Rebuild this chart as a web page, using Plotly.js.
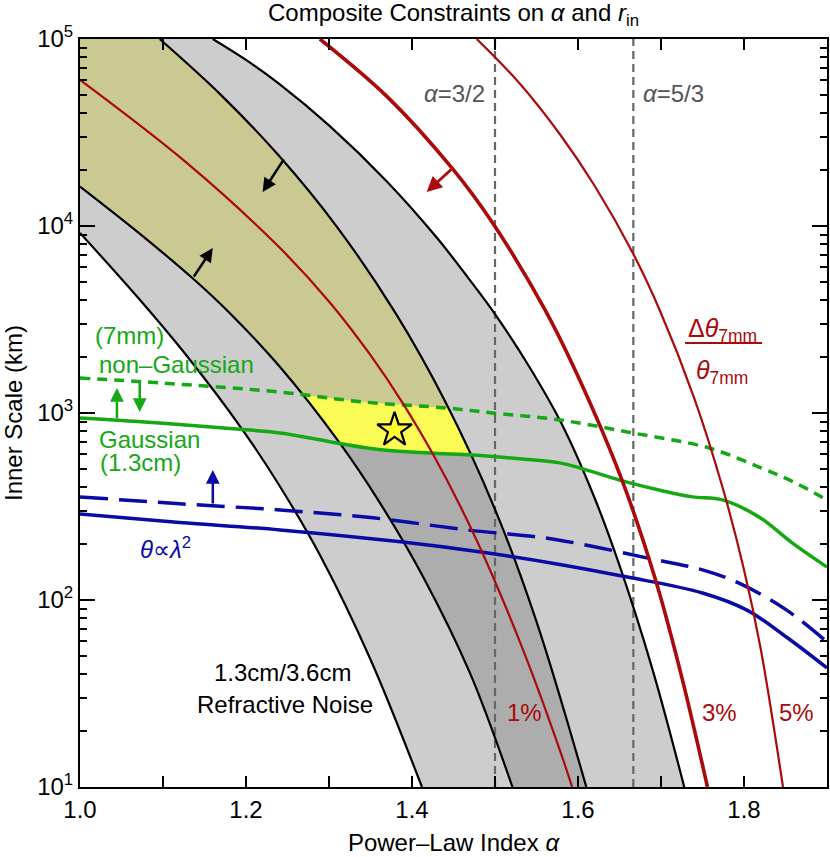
<!DOCTYPE html>
<html><head><meta charset="utf-8">
<script src="https://cdn.plot.ly/plotly-3.0.1.min.js"></script>
<style>html,body{margin:0;padding:0;background:#fff}#plot{width:830px;height:857px}</style>
</head><body><div id="plot"></div>
<script>
// ---- refractive-noise band edges (alpha, inner scale km)
const b1Alpha = [1.0, 1.07, 1.13, 1.196, 1.24, 1.29, 1.35, 1.412];
const b1Rin   = [9183, 4130, 1986, 811, 411, 171, 48.1, 10];
const b2Alpha = [1.0, 1.07, 1.136, 1.18, 1.241, 1.313, 1.36, 1.413, 1.47, 1.521];
const b2Rin   = [16255, 9247, 5236, 3436, 1762, 690, 338, 134, 40.5, 10];
const b3Alpha = [1.096, 1.17, 1.24, 1.31, 1.38, 1.44, 1.50, 1.55, 1.61];
const b3Rin   = [100000, 50119, 23659, 9840, 3428, 1151, 305.5, 76.7, 10];
const b4Alpha = [1.16, 1.20, 1.24, 1.30, 1.37, 1.43, 1.47, 1.50, 1.54, 1.58, 1.62, 1.65, 1.69, 1.728];
const b4Rin   = [100000, 77268, 57544, 34514, 17258, 8650, 5117, 3381, 1807, 881, 351, 153, 42.2, 10];
// ---- fractional size change curves 1%, 3%, 5%
const r1Alpha = [1.0, 1.129, 1.241, 1.301, 1.35, 1.389, 1.425, 1.46, 1.497, 1.54, 1.578, 1.593];
const r1Rin   = [60395, 21677, 7621, 3899, 2037, 1127, 605, 305.5, 134.9, 46.0, 15.8, 10];
const r3Alpha = [1.289, 1.37, 1.449, 1.497, 1.56, 1.60, 1.653, 1.694, 1.725, 1.756];
const r3Rin   = [100000, 49204, 20184, 10399, 3581, 1570, 437, 125.6, 38.7, 10];
const r5Alpha = [1.478, 1.53, 1.578, 1.62, 1.666, 1.698, 1.74, 1.774, 1.80, 1.82, 1.847];
const r5Rin   = [100000, 57677, 31046, 16406, 7178, 3589, 1202, 402, 145.2, 55.2, 10];
// ---- Gaussian (1.3cm) and non-Gaussian (7mm)
const gsAlpha = [1.0, 1.1, 1.2, 1.241, 1.309, 1.36, 1.421, 1.473, 1.53, 1.578, 1.658, 1.70, 1.738, 1.774, 1.818, 1.858, 1.9];
const gsRin   = [940, 881, 813, 782, 692, 638, 611, 596, 569, 541, 428, 385, 356, 343, 278, 202, 150];
const gdAlpha = [1.0, 1.1, 1.241, 1.341, 1.441, 1.497, 1.578, 1.666, 1.758, 1.818, 1.86, 1.9];
const gdRin   = [1538, 1445, 1294, 1146, 1064, 1000, 918, 782, 650, 514, 427, 343];
// ---- theta ~ lambda^2
const bsAlpha = [1.0, 1.12, 1.241, 1.389, 1.481, 1.578, 1.658, 1.75, 1.803, 1.851, 1.9];
const bsRin   = [288, 260, 237, 204, 181, 155, 133, 109, 88.5, 63.4, 43.3];
const bdAlpha = [1.0, 1.12, 1.241, 1.353, 1.466, 1.569, 1.694, 1.75, 1.794, 1.851, 1.9];
const bdRin   = [356, 327, 303, 275, 237, 212, 164, 145, 123, 88.5, 59.6];
// ---- best fit and reference indices
const starAlpha = [1.379];
const starRin   = [811];
const refAlpha  = [1.5, 5/3];
const refLabels = ['<i>α</i>=3/2', '<i>α</i>=5/3'];
const xRange = [1.0, 1.9];
const yRange = [10, 100000];

const RED = '#aa0a0a', GREEN = '#14a814', BLUE = '#0a0aa5', FONT = 'Liberation Sans, Arial, sans-serif';

const L = v => Math.log10(v);
const pts = (xs, ys) => xs.map((x, i) => [x, L(ys[i])]);
const B1 = pts(b1Alpha, b1Rin), B2 = pts(b2Alpha, b2Rin), B3 = pts(b3Alpha, b3Rin), B4 = pts(b4Alpha, b4Rin);
const GS = pts(gsAlpha, gsRin), GD = pts(gdAlpha, gdRin);

function seg(a, b, c, d) {
  const rx = b[0]-a[0], ry = b[1]-a[1], sx = d[0]-c[0], sy = d[1]-c[1];
  const den = rx*sy - ry*sx;
  if (Math.abs(den) < 1e-14) return null;
  const t = ((c[0]-a[0])*sy - (c[1]-a[1])*sx) / den;
  const u = ((c[0]-a[0])*ry - (c[1]-a[1])*rx) / den;
  if (t >= 0 && t <= 1 && u >= 0 && u <= 1) return {t, u, pt: [a[0]+t*rx, a[1]+t*ry]};
  return null;
}
function intersect(P, Q) {
  for (let i = 0; i < P.length-1; i++)
    for (let j = 0; j < Q.length-1; j++) {
      const r = seg(P[i], P[i+1], Q[j], Q[j+1]);
      if (r) return {i, j, pt: r.pt};
    }
  return null;
}
// region of the B2-B3 band lying below curve G
function bandBelow(G) {
  const a = intersect(G, B2), b = intersect(G, B3);
  return [a.pt].concat(G.slice(a.i+1, b.i+1), [b.pt], B3.slice(b.j+1), B2.slice(a.j+1).reverse());
}
function fillTrace(P, color) {
  return {type: 'scatter', mode: 'lines', x: P.map(p => p[0]), y: P.map(p => Math.pow(10, p[1])),
          fill: 'toself', fillcolor: color, line: {width: 0}, hoverinfo: 'skip'};
}
const traces = [];
traces.push(fillTrace(B1.concat(B2.slice().reverse()), '#cdcdcd'));
traces.push(fillTrace(B3.concat(B4.slice().reverse()), '#cdcdcd'));
traces.push(fillTrace([[xRange[0], L(yRange[1])]].concat(B3, B2.slice().reverse()), '#c9c991'));
traces.push(fillTrace(bandBelow(GD), '#fbfb55'));
traces.push(fillTrace(bandBelow(GS), '#adadad'));

refAlpha.forEach(a => traces.push({type: 'scatter', mode: 'lines', x: [a, a], y: yRange,
  line: {color: '#666', width: 2.2, dash: '8px,5px'}}));

function line(xs, ys, color, width, dash) {
  return {type: 'scatter', mode: 'lines', x: xs, y: ys, line: {color, width, dash: dash || 'solid', shape: 'spline', smoothing: 1}};
}
[[b1Alpha, b1Rin], [b2Alpha, b2Rin], [b3Alpha, b3Rin], [b4Alpha, b4Rin]].forEach(c => traces.push(line(c[0], c[1], '#000', 2.2)));
traces.push(line(gdAlpha, gdRin, GREEN, 3.5, '10px,7px'));
traces.push(line(gsAlpha, gsRin, GREEN, 3.5));
traces.push(line(bdAlpha, bdRin, BLUE, 3.5, '28px,11px'));
traces.push(line(bsAlpha, bsRin, BLUE, 3.5));
traces.push(line(r1Alpha, r1Rin, RED, 2.2));
traces.push(line(r3Alpha, r3Rin, RED, 3.6));
traces.push(line(r5Alpha, r5Rin, RED, 2.2));
traces.push({type: 'scatter', mode: 'markers', x: starAlpha, y: starRin,
  marker: {symbol: 'star', size: 26, color: '#ffff33', line: {color: '#000', width: 2.2}}});

// arrows: [tailAlpha, tailLog, headAlpha, headLog, color, width]
const arrows = [
  [1.2467, 4.364, 1.220, 4.182, '#000', 2.5],
  [1.136, 3.722, 1.160, 3.882, '#000', 2.5],
  [1.449, 4.310, 1.4176, 4.182, RED, 2.8],
  [1.0445, 2.963, 1.0445, 3.134, GREEN, 2.5],
  [1.072, 3.176, 1.072, 3.005, GREEN, 2.5],
  [1.160, 2.508, 1.160, 2.695, BLUE, 2.5]
];
const ann = arrows.map(a => ({x: a[2], y: a[3], ax: a[0], ay: a[1], xref: 'x', yref: 'y', axref: 'x', ayref: 'y',
  showarrow: true, arrowhead: 2, arrowsize: 1.1, arrowwidth: a[5], arrowcolor: a[4], text: '', standoff: 0, startstandoff: 0}));
function txt(x, y, text, color, xanchor, size) {
  return {x, y, text, xref: 'x', yref: 'y', showarrow: false, xanchor: xanchor || 'center', yanchor: 'middle',
          font: {family: FONT, size: size || 24, color}, align: 'center'};
}
ann.push(txt(1.4898, 4.711, refLabels[0], '#555', 'right'));
ann.push(txt(1.676, 4.711, refLabels[1], '#555', 'left'));
ann.push(txt(1.0156, 3.417, '(7mm)', GREEN, 'left'));
ann.push(txt(1.0205, 3.257, 'non–Gaussian', GREEN, 'left'));
ann.push(txt(1.0205, 2.856, 'Gaussian', GREEN, 'left'));
ann.push(txt(1.0217, 2.733, '(1.3cm)', GREEN, 'left'));
ann.push(txt(1.0698, 2.278, '<i>θ</i>∝<i>λ</i><sup>2</sup>', BLUE, 'left'));
ann.push(txt(1.2437, 1.615, '1.3cm/3.6cm', '#000'));
ann.push(txt(1.2467, 1.439, 'Refractive Noise', '#000'));
ann.push(txt(1.5355, 1.396, '1%', RED));
ann.push(txt(1.770, 1.396, '3%', RED));
ann.push(txt(1.8628, 1.396, '5%', RED));
ann.push(txt(1.7738, 3.444, 'Δ<i>θ</i><sub>7mm</sub>', RED, 'center', 25));
ann.push(txt(1.7738, 3.219, '<i>θ</i><sub>7mm</sub>', RED, 'center', 25));

const minorVals = [];
for (let e = 1; e < 5; e++) for (let k = 2; k <= 9; k++) minorVals.push(k * Math.pow(10, e));

const layout = {
  width: 830, height: 857,
  margin: {l: 80, r: 3, t: 39, b: 70},
  paper_bgcolor: '#fff', plot_bgcolor: '#fff',
  showlegend: false, hovermode: false,
  font: {family: FONT, size: 24, color: '#000'},
  title: {text: 'Composite Constraints on <i>α</i> and <i>r</i><sub>in</sub>', font: {family: FONT, size: 24},
          x: 0.5, xref: 'paper', y: 0.985, yref: 'container', yanchor: 'middle'},
  xaxis: {range: xRange, tickvals: [1.0, 1.1, 1.2, 1.3, 1.4, 1.5, 1.6, 1.7, 1.8, 1.9],
          ticktext: ['1.0', '', '1.2', '', '1.4', '', '1.6', '', '1.8', ''],
          ticks: 'inside', ticklen: 11, tickwidth: 2, tickcolor: '#000',
          showline: true, linewidth: 2, linecolor: '#000', mirror: 'ticks',
          showgrid: false, zeroline: false, tickfont: {size: 24},
          title: {text: 'Power–Law Index <i>α</i>', font: {size: 24}, standoff: 12}},
  yaxis: {type: 'log', range: [L(yRange[0]), L(yRange[1])],
          tickvals: [10, 100, 1000, 10000, 100000],
          ticktext: ['10<sup>1</sup>', '10<sup>2</sup>', '10<sup>3</sup>', '10<sup>4</sup>', '10<sup>5</sup>'],
          ticks: 'inside', ticklen: 15, tickwidth: 2, tickcolor: '#000',
          minor: {tickvals: minorVals, ticks: 'inside', ticklen: 7, tickwidth: 2, tickcolor: '#000', showgrid: false},
          showline: true, linewidth: 2, linecolor: '#000', mirror: 'ticks',
          showgrid: false, zeroline: false, tickfont: {size: 24},
          title: {text: 'Inner Scale (km)', font: {size: 24}, standoff: 8}},
  shapes: [{type: 'line', xref: 'paper', yref: 'paper', x0: 0.81, x1: 0.913, y0: 0.5936, y1: 0.5936,
            line: {color: RED, width: 2}}],
  annotations: ann
};
Plotly.newPlot('plot', traces, layout, {staticPlot: true, displayModeBar: false});
</script></body></html>
